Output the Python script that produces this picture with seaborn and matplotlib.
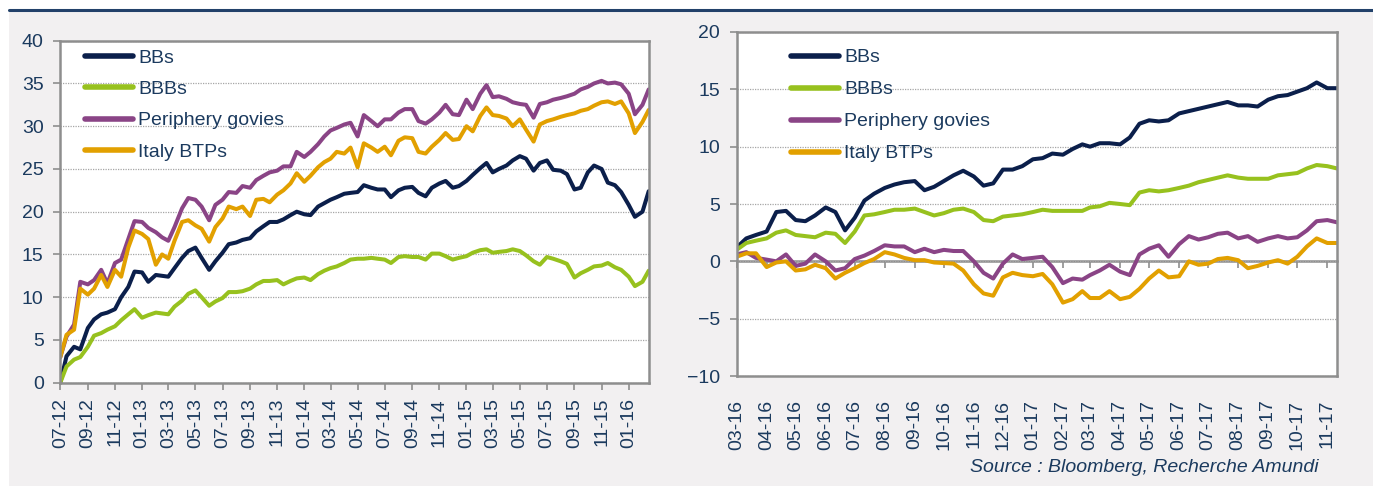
"""
Total return: high yield vs govies, two periods
"""

import numpy as np
import pandas as pd
import matplotlib
matplotlib.use("Agg")
import matplotlib.pyplot as plt
import matplotlib.dates as mdates
from matplotlib.patches import Rectangle
from matplotlib.lines import Line2D
import seaborn as sns

"""Data (read off the chart)"""

series_names = ["BBs", "BBBs", "Periphery govies", "Italy BTPs"]
series_colors = ["#0B1F4B", "#97C11E", "#8A4486", "#E2A000"]

# left panel: 07-2012 -> mid 02-2016, twice a month
left_dates = pd.date_range("2012-07-01", periods=88, freq="SMS")

left_bbs = [0.0, 3.1, 4.2, 3.9, 6.4, 7.4, 8.0, 8.2, 8.6, 10.0,
            11.2, 13.0, 12.9, 11.8, 12.6, 12.5, 12.4, 13.4, 14.6, 15.4,
            15.8, 14.6, 13.2, 14.2, 15.2, 16.2, 16.4, 16.7, 16.9, 17.7,
            18.3, 18.8, 18.8, 19.1, 19.6, 20.0, 19.7, 19.6, 20.6, 21.0,
            21.4, 21.7, 22.1, 22.2, 22.3, 23.1, 22.8, 22.6, 22.6, 21.7,
            22.5, 22.8, 22.9, 22.2, 21.8, 22.8, 23.3, 23.6, 22.8, 23.0,
            23.6, 24.3, 25.1, 25.7, 24.6, 25.0, 25.4, 26.0, 26.5, 26.2,
            24.8, 25.7, 26.0, 24.9, 24.8, 24.4, 22.6, 22.8, 24.6, 25.4,
            25.0, 23.4, 23.1, 22.3, 20.8, 19.4, 20.0, 22.4]

left_bbbs = [0.0, 1.9, 2.7, 3.0, 4.2, 5.5, 5.8, 6.2, 6.6, 7.3,
             8.0, 8.6, 7.6, 7.9, 8.2, 8.1, 8.0, 8.9, 9.6, 10.4,
             10.8, 10.0, 9.0, 9.5, 9.9, 10.6, 10.6, 10.7, 11.0, 11.5,
             11.9, 11.9, 12.0, 11.5, 11.9, 12.2, 12.3, 12.0, 12.7, 13.1,
             13.4, 13.6, 14.0, 14.4, 14.5, 14.5, 14.6, 14.5, 14.4, 14.0,
             14.7, 14.8, 14.7, 14.7, 14.4, 15.1, 15.1, 14.8, 14.4, 14.6,
             14.8, 15.2, 15.5, 15.6, 15.2, 15.3, 15.4, 15.6, 15.4, 14.9,
             14.2, 13.8, 14.7, 14.5, 14.2, 13.9, 12.3, 12.8, 13.2, 13.6,
             13.7, 14.0, 13.5, 13.2, 12.4, 11.3, 11.8, 13.1]

left_periph = [3.0, 5.4, 6.8, 11.8, 11.5, 12.0, 13.2, 11.6, 14.0, 14.4,
               16.8, 18.9, 18.8, 18.1, 17.6, 17.0, 16.6, 18.2, 20.4, 21.6,
               21.4, 20.6, 19.0, 20.8, 21.4, 22.3, 22.2, 23.0, 22.8, 23.7,
               24.2, 24.6, 24.8, 25.3, 25.3, 27.0, 26.4, 27.0, 27.9, 28.8,
               29.5, 29.8, 30.2, 30.4, 28.8, 31.3, 30.6, 30.0, 30.8, 30.8,
               31.6, 32.0, 32.0, 30.6, 30.3, 30.8, 31.6, 32.5, 31.4, 31.3,
               33.1, 32.0, 33.8, 34.8, 33.4, 33.5, 33.2, 32.8, 32.6, 32.5,
               31.0, 32.6, 32.8, 33.1, 33.3, 33.5, 33.8, 34.3, 34.6, 35.0,
               35.3, 35.0, 35.1, 34.9, 33.8, 31.4, 32.5, 34.3]

left_btps = [3.0, 5.6, 6.2, 11.0, 10.3, 11.0, 12.6, 11.2, 13.2, 12.4,
             15.8, 17.8, 17.4, 16.8, 13.8, 15.0, 14.5, 16.6, 18.8, 19.0,
             18.4, 18.0, 16.5, 18.2, 19.2, 20.6, 20.3, 20.6, 19.5, 21.4,
             21.5, 21.1, 22.0, 22.5, 23.3, 24.5, 23.5, 24.2, 25.2, 25.8,
             26.2, 27.0, 26.8, 27.5, 25.2, 28.0, 27.5, 27.0, 27.6, 26.6,
             28.3, 28.7, 28.6, 27.0, 26.8, 27.6, 28.4, 29.2, 28.4, 28.5,
             30.0, 29.4, 31.2, 32.2, 31.3, 31.2, 30.9, 30.0, 30.8, 29.6,
             28.2, 30.2, 30.6, 30.8, 31.1, 31.3, 31.5, 31.8, 32.0, 32.4,
             32.8, 32.9, 32.6, 32.9, 31.5, 29.2, 30.5, 31.9]

# right panel: 03-2016 -> mid 11-2017, three points a month
right_months = pd.date_range("2016-03-01", "2017-11-01", freq="MS")
right_dates = [m + pd.Timedelta(days=d) for m in right_months for d in (0, 10, 20)][:62]

right_bbs = [1.2, 2.0, 2.3, 2.6, 4.3, 4.4, 3.6, 3.5, 4.0, 4.7,
             4.3, 2.7, 3.8, 5.3, 5.9, 6.4, 6.7, 6.9, 7.0, 6.2,
             6.5, 7.0, 7.5, 7.9, 7.4, 6.6, 6.8, 8.0, 8.0, 8.3,
             8.9, 9.0, 9.4, 9.3, 9.8, 10.2, 10.0, 10.3, 10.3, 10.2,
             10.8, 12.0, 12.3, 12.2, 12.3, 12.9, 13.1, 13.3, 13.5, 13.7,
             13.9, 13.6, 13.6, 13.5, 14.1, 14.4, 14.5, 14.8, 15.1, 15.6,
             15.1, 15.1]

right_bbbs = [1.0, 1.6, 1.8, 2.0, 2.5, 2.7, 2.3, 2.2, 2.1, 2.5,
              2.4, 1.6, 2.6, 4.0, 4.1, 4.3, 4.5, 4.5, 4.6, 4.3,
              4.0, 4.2, 4.5, 4.6, 4.3, 3.6, 3.5, 3.9, 4.0, 4.1,
              4.3, 4.5, 4.4, 4.4, 4.4, 4.4, 4.7, 4.8, 5.1, 5.0,
              4.9, 6.0, 6.2, 6.1, 6.2, 6.4, 6.6, 6.9, 7.1, 7.3,
              7.5, 7.3, 7.2, 7.2, 7.2, 7.5, 7.6, 7.7, 8.1, 8.4,
              8.3, 8.1]

right_periph = [0.6, 0.8, 0.3, 0.15, 0.0, 0.6, -0.4, -0.2, 0.6, 0.0,
                -0.8, -0.6, 0.2, 0.5, 0.9, 1.4, 1.3, 1.3, 0.8, 1.1,
                0.8, 1.0, 0.9, 0.9, 0.0, -1.0, -1.5, -0.2, 0.6, 0.2,
                0.3, 0.4, -0.5, -1.9, -1.5, -1.6, -1.2, -0.8, -0.3, -0.9,
                -1.2, 0.6, 1.1, 1.4, 0.4, 1.5, 2.2, 1.9, 2.1, 2.4,
                2.5, 2.0, 2.2, 1.7, 2.0, 2.2, 2.0, 2.1, 2.7, 3.5,
                3.6, 3.4]

right_btps = [0.4, 0.7, 0.7, -0.5, -0.1, 0.0, -0.8, -0.7, -0.3, -0.6,
              -1.5, -1.0, -0.6, -0.15, 0.2, 0.8, 0.6, 0.3, 0.1, 0.1,
              -0.1, -0.15, -0.2, -0.8, -2.0, -2.8, -3.0, -1.4, -1.0, -1.2,
              -1.3, -1.1, -2.0, -3.6, -3.3, -2.6, -3.2, -3.2, -2.6, -3.3,
              -3.1, -2.4, -1.5, -0.8, -1.4, -1.3, 0.0, -0.3, -0.2, 0.2,
              0.3, 0.1, -0.6, -0.4, -0.1, 0.1, -0.2, 0.4, 1.3, 2.0,
              1.6, 1.6]

left_yticks = [0, 5, 10, 15, 20, 25, 30, 35, 40]
right_yticks = [-10, -5, 0, 5, 10, 15, 20]
source_text = "Source : Bloomberg, Recherche Amundi"


def long_frame(dates, cols):
    df = pd.DataFrame(dict(zip(series_names, cols)))
    df["date"] = dates
    return df.melt(id_vars="date", var_name="series", value_name="value")


left_df = long_frame(left_dates, [left_bbs, left_bbbs, left_periph, left_btps])
right_df = long_frame(right_dates, [right_bbs, right_bbbs, right_periph, right_btps])

"""Plot"""

sns.set_theme(style="white")
plt.rcParams["font.family"] = ["Liberation Sans", "DejaVu Sans"]

W, H = 1373, 486
navy = "#1B3A5E"
frame = "#8E8E8E"
palette = dict(zip(series_names, series_colors))

fig = plt.figure(figsize=(W / 100, H / 100), dpi=100, facecolor="white")
fig.patches.append(Rectangle((9 / W, 0), 1 - 9 / W, 1 - 12 / H, transform=fig.transFigure,
                             facecolor="#F2F0F1", edgecolor="none", zorder=-10))
fig.add_artist(Line2D([9 / W, 1], [1 - 10 / H] * 2, color="#22416A", lw=2.2))

ax1 = fig.add_axes([60.3 / W, 1 - 382.7 / H, 588.4 / W, 342 / H])
ax2 = fig.add_axes([736.6 / W, 1 - 376 / H, 600.4 / W, 344 / H])

for ax, df in [(ax1, left_df), (ax2, right_df)]:
    sns.lineplot(data=df, x="date", y="value", hue="series", palette=palette,
                 linewidth=2.9, ax=ax)
    ax.set_facecolor("white")
    ax.set_xlabel("")
    ax.set_ylabel("")
    for s in ax.spines.values():
        s.set_visible(True)
        s.set_color(frame)
        s.set_linewidth(1.8)
    ax.yaxis.grid(True, linestyle=(0, (1, 1)), color="#A6A6A6", linewidth=0.9)
    ax.set_axisbelow(True)
    ax.tick_params(axis="y", left=True, length=5, width=1.2, color=frame,
                   labelsize=14, labelcolor=navy, pad=7)
    ax.tick_params(axis="x", labelsize=14, labelcolor=navy, labelrotation=90)

# left panel
ax1.set_xlim(left_dates[0], left_dates[-1])
ax1.set_ylim(left_yticks[0], left_yticks[-1])
ax1.set_yticks(left_yticks)
ax1.xaxis.set_major_locator(mdates.MonthLocator(bymonth=[1, 3, 5, 7, 9, 11]))
ax1.xaxis.set_major_formatter(mdates.DateFormatter("%m-%y"))
ax1.tick_params(axis="x", bottom=True, length=5, width=1.2, color=frame, pad=6)
h, l = ax1.get_legend_handles_labels()
leg1 = ax1.legend(h, l, loc="upper left", bbox_to_anchor=(0.0416, 0.976), frameon=False,
                  fontsize=14, labelcolor=navy, handlelength=2.5, handletextpad=0.25,
                  labelspacing=0.71, borderpad=0, borderaxespad=0)

# right panel
ax2.set_xlim(right_dates[0], right_dates[-1])
ax2.set_ylim(right_yticks[0], right_yticks[-1])
ax2.set_yticks(right_yticks)
ax2.xaxis.set_major_locator(mdates.MonthLocator())
ax2.xaxis.set_major_formatter(mdates.DateFormatter("%m-%y"))
ax2.tick_params(axis="x", bottom=False, pad=11)
zero = ax2.secondary_xaxis(1 / 3)
zero.xaxis.set_major_locator(mdates.MonthLocator())
zero.tick_params(axis="x", length=5, width=1.2, color=frame, labelbottom=False)
zero.spines["bottom"].set_color(frame)
zero.spines["bottom"].set_linewidth(1.8)
h, l = ax2.get_legend_handles_labels()
leg2 = ax2.legend(h, l, loc="upper left", bbox_to_anchor=(0.0898, 0.951), frameon=False,
                  fontsize=14, labelcolor=navy, handlelength=2.5, handletextpad=0.25,
                  labelspacing=0.74, borderpad=0, borderaxespad=0)

for leg in (leg1, leg2):
    for line in leg.get_lines():
        line.set_linewidth(4)

fig.text(1318.6 / W, 1 - 468 / H, source_text, ha="right", va="center",
         fontsize=14, style="italic", color=navy)

fig.savefig("out.png", dpi=100, facecolor=fig.get_facecolor())
